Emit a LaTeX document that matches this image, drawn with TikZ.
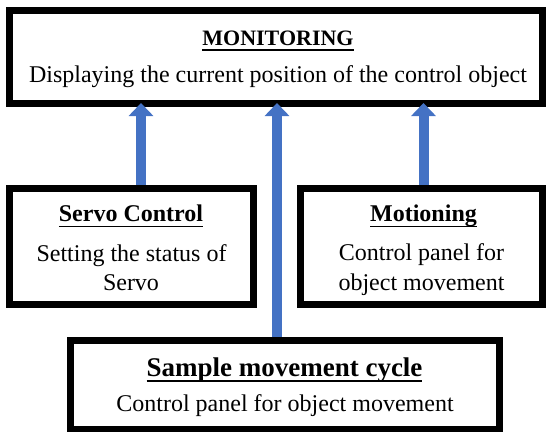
\documentclass[tikz,border=0pt]{standalone}
\usepackage{fontspec}
\setmainfont{Liberation Serif}
\usetikzlibrary{arrows.meta}
\definecolor{arrblue}{HTML}{4472C4}
\newcommand\myul[1]{\setbox0\hbox{#1}\rlap{\rule[-5.8pt]{\wd0}{1.8pt}}\box0}
\tikzset{
  boxnode/.style={draw=black, fill=white, line width=7pt, rectangle, inner sep=0pt},
  txt/.style={inner sep=0pt, anchor=base, font=\fontsize{24}{28}\selectfont},
  ttl/.style={inner sep=0pt, anchor=base, font=\fontsize{24}{28}\selectfont\bfseries},
  uparrow/.style={draw=arrblue, line width=10pt, -{Triangle[width=24pt,length=13pt]}, shorten >=-4pt}
}
\begin{document}
\begin{tikzpicture}[x=1pt,y=-1pt]
\useasboundingbox (0,0) rectangle (546,431);
% boxes
\node[boxnode, minimum width=533pt, minimum height=93pt] (mon) at (276,57) {};
\node[boxnode, minimum width=244pt, minimum height=116pt] (serv) at (131.5,246.5) {};
\node[boxnode, minimum width=242pt, minimum height=116pt] (mot) at (421.5,246.5) {};
\node[boxnode, minimum width=429pt, minimum height=89pt] (samp) at (285,385) {};
% texts
\node[ttl, font=\fontsize{22}{26}\selectfont\bfseries] (monT) at (278,45) {\myul{MONITORING}};
\node[txt] (monD) at (278,82) {Displaying the current position of the control object};
\node[ttl] (servT) at (131,221.5) {\myul{Servo Control}};
\node[txt] (servD1) at (131.5,261) {Setting the status of};
\node[txt] (servD2) at (131,290.5) {Servo};
\node[ttl] (motT) at (423.5,221.5) {\myul{Motioning}};
\node[txt] (motD1) at (421.5,260) {Control panel for};
\node[txt] (motD2) at (421.5,290.5) {object movement};
\node[ttl, font=\fontsize{27}{31}\selectfont\bfseries] (sampT) at (284.5,376) {\myul{Sample movement cycle}};
\node[txt] (sampD) at (285,411) {Control panel for object movement};
% arrows
\draw[uparrow] ([xshift=9.5pt]serv.north) -- ([xshift=9.5pt]serv.north |- mon.south);
\draw[uparrow] ([xshift=-8pt]samp.north) -- ([xshift=-8pt]samp.north |- mon.south);
\draw[uparrow] ([xshift=2pt]mot.north) -- ([xshift=2pt]mot.north |- mon.south);
\end{tikzpicture}
\end{document}
